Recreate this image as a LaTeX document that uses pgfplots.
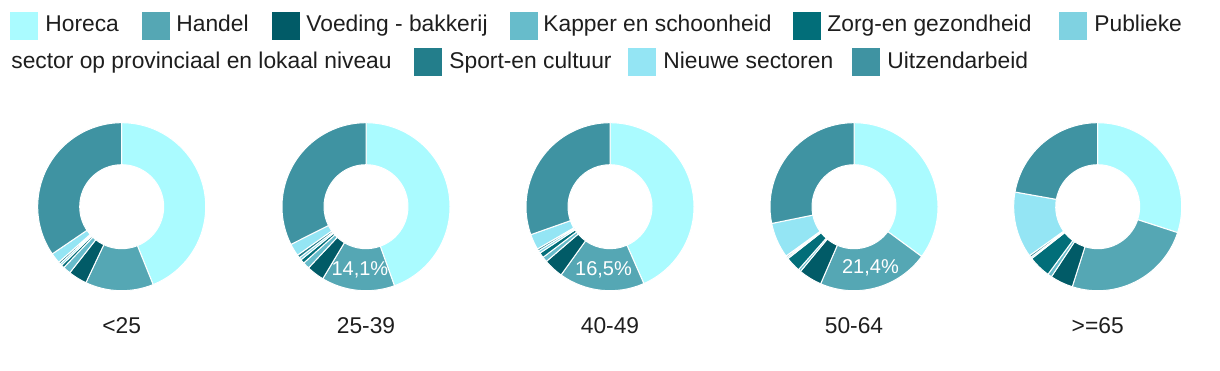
\documentclass[border=0pt]{standalone}
\usepackage{pgfplots}
\pgfplotsset{compat=1.18}
\usepackage{pgfplotstable}
\usepackage{fontspec}
\setmainfont{Liberation Sans}
\definecolor{c0}{HTML}{AAFBFF}
\definecolor{c1}{HTML}{55A7B4}
\definecolor{c2}{HTML}{015B67}
\definecolor{c3}{HTML}{67BCCB}
\definecolor{c4}{HTML}{026E79}
\definecolor{c5}{HTML}{7FD2E1}
\definecolor{c6}{HTML}{237E8B}
\definecolor{c7}{HTML}{94E5F4}
\definecolor{c8}{HTML}{3F93A2}
\definecolor{txt}{HTML}{1E1E1E}

% share (%) of each sector per age group
\pgfplotstableread{
sector   c1   c2   c3   c4   c5
Horeca   43.9 44.5 43.4 35.1 30.0
Handel   13.1 14.1 16.5 21.4 24.9
Voeding  3.6  3.4  3.8  4.5  4.4
Kapper   1.5  1.3  1.0  0.5  0.8
Zorg     0.6  0.8  1.0  2.9  4.3
Publieke 0.4  0.5  0.5  0.3  0.3
Sport    0.4  0.6  0.4  0.3  0.4
Nieuwe   2.0  2.4  3.0  6.8  12.7
Uitzend  34.5 32.4 30.4 28.2 22.2
}\sectordata

% #1 column, #2 cx, #3 cy (axis units = px), #4 label flag
\newcommand\donut[4]{%
  \xdef\acc{0}%
  \foreach \i in {0,...,8}{%
    \pgfplotstablegetelem{\i}{#1}\of\sectordata
    \pgfmathsetmacro\va{\acc}%
    \pgfmathsetmacro\vb{\acc+\pgfplotsretval}%
    \xdef\acc{\vb}%
    \pgfmathsetmacro\pa{90-3.6*\va}%
    \pgfmathsetmacro\pb{90-3.6*\vb}%
    \pgfmathsetmacro\xo{#2+84*cos(\pa)}%
    \pgfmathsetmacro\yo{#3+84*sin(\pa)}%
    \pgfmathsetmacro\xin{#2+42*cos(\pb)}%
    \pgfmathsetmacro\yin{#3+42*sin(\pb)}%
    \edef\cmd{\noexpand\filldraw[fill=c\i, draw=white, line width=0.5pt, line join=round] (axis cs:\xo,\yo) arc[start angle=\pa, end angle=\pb, radius=42pt] -- (axis cs:\xin,\yin) arc[start angle=\pb, end angle=\pa, radius=21pt] -- cycle;}%
    \cmd
  }%
  \ifnum#4=1
    \pgfplotstablegetelem{0}{#1}\of\sectordata
    \let\vzero\pgfplotsretval
    \pgfplotstablegetelem{1}{#1}\of\sectordata
    \let\vone\pgfplotsretval
    \pgfmathsetmacro\pm{90-3.6*(\vzero+\vone/2)}%
    \pgfmathsetmacro\lx{#2+63*cos(\pm)}%
    \pgfmathsetmacro\ly{#3+63*sin(\pm)}%
    \edef\cmd{\noexpand\node[white, font=\noexpand\fontsize{10}{12}\noexpand\selectfont, inner sep=0] at (axis cs:\lx,\ly) {\noexpand\pgfmathprintnumber[fixed,fixed zerofill,precision=1,use comma,assume math mode=true]{\vone}\noexpand\%};}%
    \cmd
  \fi
}

\newcommand\legsq[3]{% square x, row (1/2), colour
  \ifnum#2=1
    \fill[#3] (axis cs:#1,330) rectangle (axis cs:#1+28,358);
  \else
    \fill[#3] (axis cs:#1,294) rectangle (axis cs:#1+28,322);
  \fi
}

\begin{document}
\begin{tikzpicture}
\begin{axis}[
  hide axis, scale only axis, clip=false,
  x=0.5pt, y=0.5pt,
  xmin=0, xmax=1220, ymin=0, ymax=370,
  disabledatascaling,
]
\donut{c1}{121.7}{163.3}{0}
\donut{c2}{366}{163.3}{1}
\donut{c3}{610}{163.3}{1}
\donut{c4}{854}{163.3}{1}
\donut{c5}{1097.7}{163.3}{0}

\begin{scope}[every node/.style={anchor=base, inner sep=0, text=txt, font=\fontsize{11.4}{13}\selectfont}]
\node at (axis cs:121.7,37) {<25};
\node at (axis cs:366,37) {25-39};
\node at (axis cs:610,37) {40-49};
\node at (axis cs:854,37) {50-64};
\node at (axis cs:1097.7,37) {>=65};
\end{scope}

% legend
\legsq{10}{1}{c0}
\legsq{142}{1}{c1}
\legsq{272}{1}{c2}
\legsq{510}{1}{c3}
\legsq{793}{1}{c4}
\legsq{1059}{1}{c5}
\legsq{414}{2}{c6}
\legsq{628}{2}{c7}
\legsq{852}{2}{c8}
\begin{scope}[every node/.style={anchor=base west, inner sep=0, text=txt, font=\fontsize{11.4}{13}\selectfont}]
\node at (axis cs:45,338) {Horeca};
\node at (axis cs:176,338) {Handel};
\node at (axis cs:306,338) {Voeding - bakkerij};
\node at (axis cs:543,338) {Kapper en schoonheid};
\node at (axis cs:827,338) {Zorg-en gezondheid};
\node at (axis cs:1094,338) {Publieke};
\node at (axis cs:11,301) {sector op provinciaal en lokaal niveau};
\node at (axis cs:449,301) {Sport-en cultuur};
\node at (axis cs:663,301) {Nieuwe sectoren};
\node at (axis cs:887,301) {Uitzendarbeid};
\end{scope}
\end{axis}
\path (current axis.south west) rectangle (current axis.north east);
\end{tikzpicture}
\end{document}
